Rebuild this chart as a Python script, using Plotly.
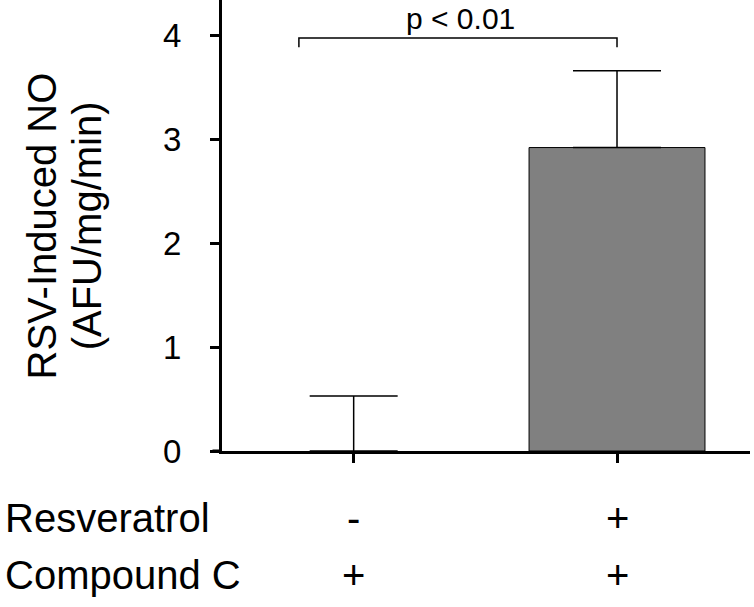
import plotly.graph_objects as go

# data
groups = [0, 1]
no_values = [0.0, 2.92]
no_err = [0.53, 0.74]
resveratrol = ["-", "+"]
compound_c = ["+", "+"]
y_ticks = [0, 1, 2, 3, 4]
p_label = "p < 0.01"
y_title = ["RSV-Induced NO", "(AFU/mg/min)"]

font = "Liberation Sans, Arial, sans-serif"

fig = go.Figure()
fig.add_trace(go.Bar(
    x=groups, y=no_values, width=0.668,
    marker=dict(color="#808080", line=dict(color="black", width=[0, 1])),
    error_y=dict(type="data", array=no_err, arrayminus=[0, 0], symmetric=False,
                 color="black", thickness=1.5, width=44),
    showlegend=False,
))

# significance bracket
fig.add_shape(type="path", path="M -0.208 3.885 L -0.208 3.975 L 1 3.975 L 1 3.885",
              xref="x", yref="y", line=dict(color="black", width=1.5))
fig.add_annotation(x=0.404, y=1.0, xref="x", yref="paper", text=p_label, showarrow=False,
                   xanchor="center", yanchor="top", font=dict(size=30, family=font, color="black"))

# small extension of the x axis line left of the y axis
fig.add_shape(type="line", xref="paper", yref="paper", x0=-0.018, x1=0.0, y0=0, y1=0,
              line=dict(color="black", width=3))

# y axis title, two rotated lines
for txt, tx in zip(y_title, [-0.341, -0.256]):
    fig.add_annotation(x=tx, y=0.5, xref="paper", yref="paper",
                       text=txt, textangle=-90, showarrow=False,
                       xanchor="center", yanchor="middle", font=dict(size=40, family=font, color="black"))

# treatment table under the axis
row_y = [-0.1475, -0.274]
for label, signs, ry in zip(["Resveratrol", "Compound C"], [resveratrol, compound_c], row_y):
    fig.add_annotation(x=-0.415, y=ry, xref="paper", yref="paper", text=label, showarrow=False,
                       xanchor="left", yanchor="middle", font=dict(size=40, family=font, color="black"))
    for g, s in zip(groups, signs):
        fig.add_annotation(x=g, y=ry, xref="x", yref="paper", text=s, showarrow=False,
                           xanchor="center", yanchor="middle", font=dict(size=40, family=font, color="black"))

fig.update_layout(
    width=754, height=607,
    margin=dict(l=222, r=4, t=0, b=156),
    plot_bgcolor="white", paper_bgcolor="white",
    font=dict(family=font, color="black"),
)
fig.update_xaxes(range=[-0.5, 1.505], showline=True, linewidth=3, linecolor="black",
                 ticks="outside", ticklen=9, tickwidth=3, tickcolor="black",
                 tickvals=groups, showticklabels=False, showgrid=False, zeroline=False)
fig.update_yaxes(range=[0, 4.34], showline=True, linewidth=3, linecolor="black",
                 ticks="outside", ticklen=9, tickwidth=3, tickcolor="black",
                 tickvals=y_ticks, tickfont=dict(size=33, family=font, color="black"),
                 ticklabelstandoff=22, showgrid=False, zeroline=False)

fig.write_html("out.html", config={"displayModeBar": False},
               post_script="document.body.style.margin='0';")
